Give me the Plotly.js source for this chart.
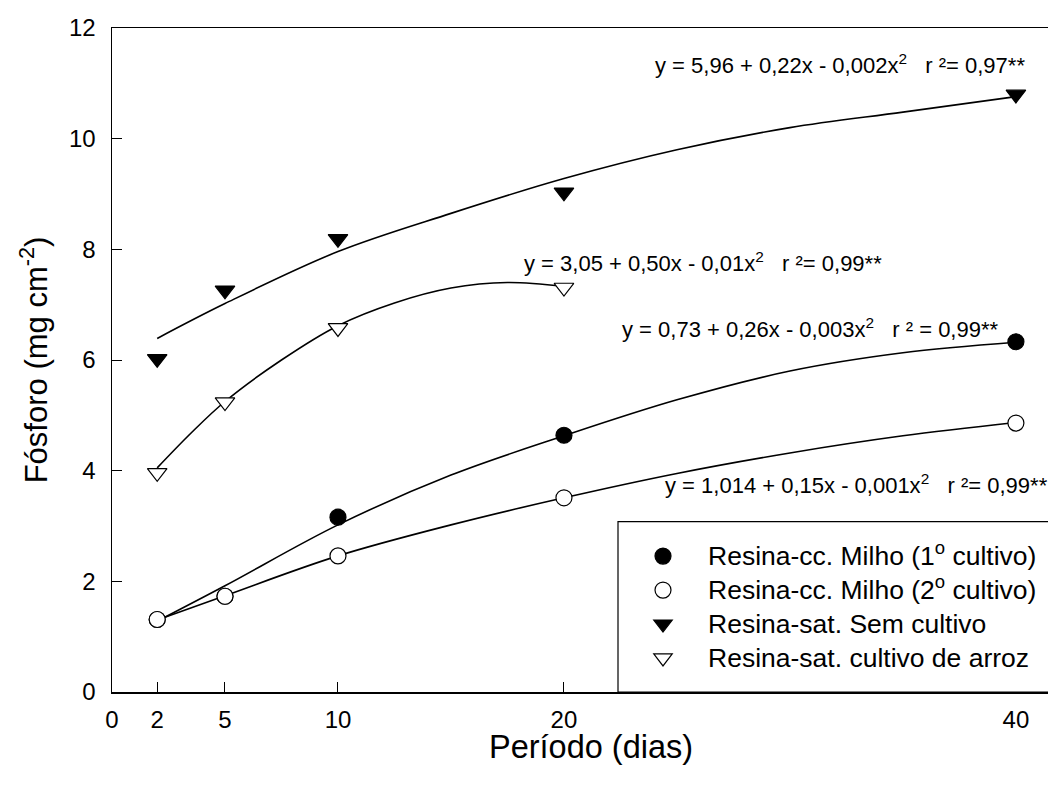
<!DOCTYPE html>
<html>
<head>
<meta charset="utf-8">
<script src="https://cdn.plot.ly/plotly-3.0.1.min.js"></script>
<style>html,body{margin:0;padding:0;background:#fff;overflow:hidden;}</style>
</head>
<body>
<div id="chart" style="width:1048px;height:789px;"></div>
<script>
// ---- Data ----
const dias = [2, 5, 10, 20, 40];
const diasArroz = [2, 5, 10, 20];
const milho1 = [1.31, 1.73, 3.16, 4.64, 6.33];   // Resina-cc. Milho (1º cultivo)
const milho2 = [1.31, 1.73, 2.46, 3.51, 4.86];   // Resina-cc. Milho (2º cultivo)
const semCultivo = [6.02, 7.26, 8.19, 9.03, 10.80]; // Resina-sat. Sem cultivo
const arroz = [3.96, 5.24, 6.58, 7.31];          // Resina-sat. cultivo de arroz

// fitted curves, points
const fitX = [2, 5, 10, 15, 20, 25, 30, 35, 40];
const fitSem = [6.39, 7.02, 7.96, 8.65, 9.28, 9.80, 10.20, 10.48, 10.76];
const fitMilho1 = [1.28, 1.92, 3.02, 3.92, 4.63, 5.28, 5.80, 6.13, 6.32];
const fitMilho2 = [1.30, 1.74, 2.46, 3.02, 3.51, 3.95, 4.32, 4.63, 4.87];
const fitArrozX = [2, 3.5, 5, 7.5, 10, 12.5, 15, 17.5, 20];
const fitArroz = [4.05, 4.68, 5.25, 6.00, 6.62, 7.03, 7.30, 7.40, 7.33];

const seriesNames = [
  'Resina-cc. Milho (1<sup>o</sup> cultivo)',
  'Resina-cc. Milho (2<sup>o</sup> cultivo)',
  'Resina-sat. Sem cultivo',
  'Resina-sat. cultivo de arroz'
];
const xTicks = [0, 2, 5, 10, 20, 40];
const xTickText = ['0', '2', '5', '10', '20', '40'];
const yTicks = [0, 2, 4, 6, 8, 10, 12];

const sp = '\u00a0\u00a0\u00a0';
const equations = [
  {x: 23.94, y: 11.35, text: 'y = 5,96 + 0,22x - 0,002x<sup>2</sup>' + sp + 'r ²= 0,97**'},
  {x: 18.14, y: 7.77, text: 'y = 3,05 + 0,50x - 0,01x<sup>2</sup>' + sp + 'r ²= 0,99**'},
  {x: 22.48, y: 6.58, text: 'y = 0,73 + 0,26x - 0,003x<sup>2</sup>' + sp + 'r ² = 0,99**'},
  {x: 24.38, y: 3.76, text: 'y = 1,014 + 0,15x - 0,001x<sup>2</sup>' + sp + 'r ²= 0,99**'}
];

const FONT = 'Arial, "Liberation Sans", sans-serif';
const lineStyle = {color: '#000', width: 1.6, shape: 'spline', smoothing: 1};

function curve(x, y) {
  return {x: x, y: y, mode: 'lines', line: lineStyle, showlegend: false, hoverinfo: 'skip'};
}
function pts(x, y, name, symbol, fill, size, group) {
  return {
    x: x, y: y, mode: 'markers', legendgroup: group,
    name: '<span style="font-size:26.5px">' + name + '</span>',
    marker: {symbol: symbol, size: size, color: fill, line: {color: '#000', width: 1.2}}
  };
}

const traces = [
  curve(fitX, fitSem),
  curve(fitArrozX, fitArroz),
  curve(fitX, fitMilho1),
  curve(fitX, fitMilho2),
  pts(dias, milho1, seriesNames[0], 'circle', '#000', 16, 'g1'),
  pts(dias, milho2, seriesNames[1], 'circle', '#fff', 16, 'g2'),
  pts(dias, semCultivo, seriesNames[2], 'triangle-down', '#000', 17, 'g3'),
  pts(diasArroz, arroz, seriesNames[3], 'triangle-down', '#fff', 17, 'g4')
];

const layout = {
  width: 1048, height: 789,
  margin: {l: 112, r: 0, t: 28, b: 97},
  paper_bgcolor: '#fff', plot_bgcolor: '#fff',
  font: {family: FONT, color: '#000'},
  showlegend: true,
  xaxis: {
    range: [0, 41.42], tickmode: 'array', tickvals: xTicks, ticktext: xTickText,
    ticks: 'inside', ticklen: 10, tickwidth: 1, tickcolor: '#000',
    showline: true, linecolor: '#000', linewidth: 1.5, mirror: true,
    showgrid: false, zeroline: false,
    tickfont: {size: 24, family: FONT, color: '#000'},
    ticklabelstandoff: 6,
    automargin: false
  },
  yaxis: {
    range: [0, 12], tickmode: 'array', tickvals: yTicks,
    ticks: 'inside', ticklen: 10, tickwidth: 1, tickcolor: '#000',
    showline: true, linecolor: '#000', linewidth: 1.5,
    showgrid: false, zeroline: false,
    tickfont: {size: 24, family: FONT, color: '#000'},
    ticklabelstandoff: 10,
    title: {text: 'Fósforo (mg cm<sup>-2</sup>)', font: {size: 31, family: FONT, color: '#000'}, standoff: 12},
    automargin: false
  },
  legend: {
    x: 0.5406, xanchor: 'left', y: 0.1273, yanchor: 'middle',
    bgcolor: 'rgba(0,0,0,0)', borderwidth: 0,
    font: {size: 22.5, family: FONT, color: '#000'},
    itemwidth: 80, tracegroupgap: 1.7, itemclick: false
  },
  shapes: [{
    // legend frame, running off the right edge as in the reference
    type: 'rect', xref: 'paper', yref: 'paper', layer: 'above',
    x0: 0.5406, x1: 1.03, y0: 0, y1: 0.2565,
    fillcolor: '#fff', line: {color: '#000', width: 1.2}
  }],
  annotations: equations.map(e => ({
    x: e.x, y: e.y, xref: 'x', yref: 'y', text: e.text, showarrow: false,
    xanchor: 'left', yanchor: 'middle',
    font: {size: 22, family: FONT, color: '#000'}
  })).concat([{
    // x-axis title (placed as in the reference, slightly right of the plot centre)
    x: 0.5118, y: -0.0833, xref: 'paper', yref: 'paper', text: 'Período (dias)',
    showarrow: false, xanchor: 'center', yanchor: 'middle',
    font: {size: 32.5, family: FONT, color: '#000'}
  }])
};

Plotly.newPlot('chart', traces, layout, {displayModeBar: false, staticPlot: true});
</script>
</body>
</html>
